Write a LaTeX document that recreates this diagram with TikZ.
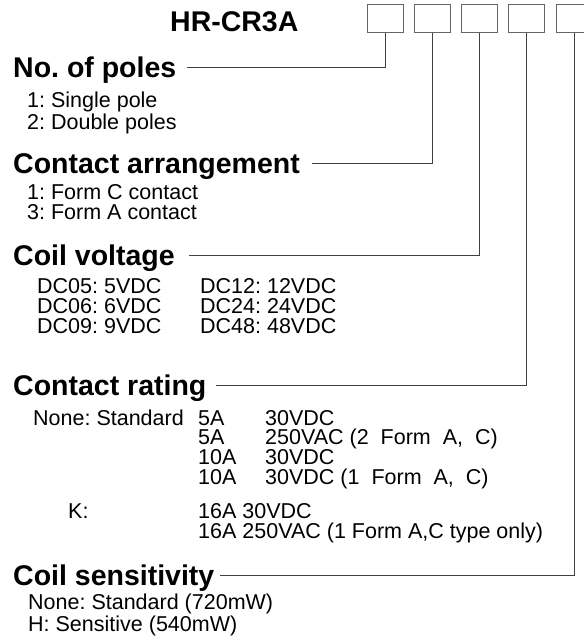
\documentclass[tikz,border=0pt]{standalone}
\usepackage{fontspec}
\setmainfont{Liberation Sans}
\frenchspacing
\begin{document}
\begin{tikzpicture}[x=1pt,y=-1pt,
  head node/.style={anchor=base west,inner sep=0pt,text height=20pt,text depth=0pt,
    font=\fontsize{28.5}{30}\selectfont\bfseries},
  item node/.style={anchor=base west,inner sep=0pt,align=left,
    font=\fontsize{21.5}{19.6}\selectfont},
  code box/.style={draw=black!60,line width=0.8pt,minimum width=36pt,minimum height=28pt,
    inner sep=0pt,anchor=north west},
  lead/.style={draw=black!75,line width=0.8pt}]

  \useasboundingbox (0,0) rectangle (584,643);

  \node[head node] (model) at (170,31) {HR-CR3A};
  \foreach \i/\x in {1/367,2/414,3/461,4/508,5/556}
    \node[code box] (b\i) at (\x,4) {};

  \node[head node] (poles) at (13,77) {No. of poles};
  \node[head node] (arrange) at (13,173) {Contact arrangement};
  \node[head node] (voltage) at (13,265) {Coil voltage};
  \node[head node] (rating) at (13,395) {Contact rating};
  \node[head node] (sense) at (13,585) {Coil sensitivity};

  % multi-line nodes sit on the baseline of their last line
  \node[item node] (poles list) at (27,129) {1: Single pole\\2: Double poles};
  \node[item node] (arrange list) at (27,219) {1: Form C contact\\3: Form A contact};
  \node[item node] (volt left) at (37,333) {DC05: 5VDC\\DC06: 6VDC\\DC09: 9VDC};
  \node[item node] (volt right) at (200,333) {DC12: 12VDC\\DC24: 24VDC\\DC48: 48VDC};
  \node[item node] (std) at (33,425) {None: Standard};
  \node[item node] (std amps) at (198,484) {5A\\5A\\10A\\10A};
  \node[item node] (std volts) at (265,484)
    {30VDC\\250VAC (2\ \ Form\ \ A,\ \ C)\\30VDC\\30VDC (1\ \ Form\ \ A,\ \ C)};
  \node[item node] (k) at (68,518) {K:};
  \node[item node] (k rating) at (198,538) {16A 30VDC\\16A 250VAC (1 Form A,C type only)};
  \node[item node] (sense list) at (28,631) {None: Standard (720mW)\\H: Sensitive (540mW)};

  \draw[lead] ([xshift=11pt]poles.east) -| (b1.south);
  \draw[lead] ([xshift=12pt]arrange.east) -| (b2.south);
  \draw[lead] ([xshift=14pt]voltage.east) -| (b3.south);
  \draw[lead] ([xshift=9pt]rating.east) -| (b4.south);
  \draw[lead] ([xshift=5pt]sense.east) -| (b5.south);
\end{tikzpicture}
\end{document}
